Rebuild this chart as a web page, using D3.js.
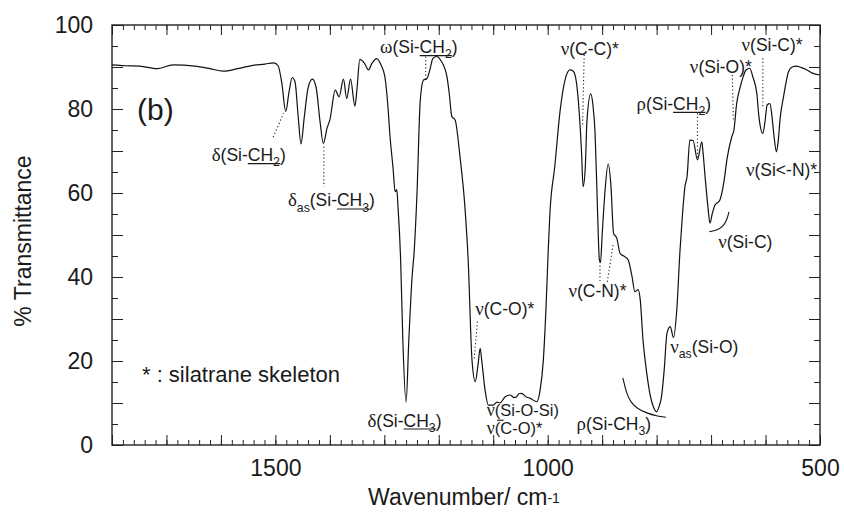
<!DOCTYPE html>
<html>
<head>
<meta charset="utf-8">
<script src="https://cdn.jsdelivr.net/npm/d3@7"></script>
<style>
  body { margin: 0; background: #fff; }
  svg text { font-family: "Liberation Sans", Arial, Helvetica, sans-serif; fill: #1a1a1a; }
</style>
</head>
<body>
<svg id="chart" width="844" height="518"></svg>
<script>
// Spectrum (cm-1, %T)
const wavenumber = [1800, 1776, 1749, 1717, 1688, 1648, 1620, 1596, 1569, 1541, 1519, 1503, 1495, 1488, 1481,
  1475, 1469, 1464, 1458, 1453, 1447, 1440, 1432, 1425, 1418, 1412, 1405, 1400, 1390, 1383,
  1375, 1369, 1362, 1354, 1350, 1345, 1337, 1329, 1323, 1314, 1306, 1299, 1293, 1290, 1284,
  1280, 1277, 1275, 1270, 1266, 1260, 1255, 1249, 1245, 1240, 1234, 1228, 1222, 1216, 1211,
  1204, 1196, 1185, 1181, 1176, 1170, 1161, 1152, 1146, 1139, 1133, 1128, 1124, 1121, 1115,
  1109, 1100, 1093, 1088, 1078, 1069, 1062, 1057, 1053, 1048, 1040, 1032, 1020, 1014, 1008,
  1003, 999, 996, 987, 977, 968, 959, 953, 947, 942, 938, 935, 931, 928, 921,
  917, 913, 909, 905, 903, 900, 895, 889, 884, 879, 873, 867, 858, 852, 845,
  840, 834, 830, 825, 818, 812, 806, 800, 796, 791, 786, 781, 775, 769, 763,
  757, 753, 748, 744, 739, 733, 725, 717, 715, 711, 706, 702, 698, 693, 684,
  676, 671, 662, 658, 653, 647, 641, 636, 629, 623, 616, 612, 605, 601, 597,
  592, 588, 584, 580, 577, 573, 567, 562, 558, 551, 543, 535, 524, 515, 500];
const transmittance = [90.5, 90.3, 90.2, 89.6, 90.5, 90.2, 89.6, 89.0, 89.6, 90.4, 90.7, 91.0, 90.3, 86, 79.4,
  84, 87.5, 86.5, 78, 71.7, 78, 85, 87.1, 85, 77, 71.8, 75.5, 77.4, 84.5, 82.9,
  87.1, 82.5, 87.1, 80.7, 85, 91.8, 91, 89.3, 90.8, 92, 90.5, 87.7, 80, 74.3, 66,
  60.3, 60.8, 57, 44, 25, 10.2, 25, 40, 46.4, 59.9, 82, 86.9, 87.2, 89.5, 92,
  92.5, 91.5, 87.7, 84, 78.2, 77.4, 68.6, 56.7, 44, 20.2, 15.1, 19, 23, 20, 13.1,
  9.5, 9.5, 10.2, 10.0, 11.5, 11.9, 11.3, 11.5, 12.2, 12.3, 11.5, 11.1, 10.3, 13, 20.2,
  33, 46.4, 55, 66.3, 79.8, 87, 89.3, 89, 86.1, 79, 70.2, 61.5, 66, 77, 83.6,
  81, 74.2, 58, 44, 43.5, 50, 60, 66.9, 62, 50.4, 49.2, 45.6, 44.8, 44, 40,
  36.5, 37, 34.5, 25, 17, 12, 9.1, 7.9, 9, 11.5, 18, 26.6, 28.2, 25.6, 32.1,
  46.4, 54, 61.5, 64, 72.6, 72.5, 67.9, 72.2, 70, 63.9, 57, 52.8, 55, 57.1, 58.3,
  63, 67.9, 73.4, 75, 81.3, 85, 87.7, 89.3, 89.7, 87.5, 83.7, 78, 74.2, 77, 81,
  81.3, 78, 73, 69.8, 72, 78, 82.9, 86.5, 88.8, 90, 90.2, 89.9, 89.3, 88.6, 88.1];

const xTickLabels = [1500, 1000, 500];
const yTickLabels = [0, 20, 40, 60, 80, 100];

// Band labels: anchor in data units, parts = [text, flags] (g greek, s subscript, u underline)
const bandLabels = [
  { wn: 1617, t: 67.6, parts: [['δ', 'g'], ['(Si-'], ['CH', 'u'], ['2', 'su'], [')']] },
  { wn: 1477, t: 56.8, parts: [['δ', 'g'], ['as', 's'], ['(Si-'], ['CH', 'u'], ['3', 'su'], [')']] },
  { wn: 1308, t: 93.3, parts: [['ω', 'g'], ['(Si-'], ['CH', 'u'], ['2', 'su'], [')']] },
  { wn: 976, t: 92.9, parts: [['ν', 'g'], ['(C-C)*']] },
  { wn: 1133, t: 31.0, parts: [['ν', 'g'], ['(C-O)*']] },
  { wn: 1331, t: 4.4, parts: [['δ', 'g'], ['(Si-'], ['CH', 'u'], ['3', 'su'], [')']] },
  { wn: 1112, t: 7.0, size: 16.5, parts: [['ν', 'g'], ['(Si-O-Si)']] },
  { wn: 1112, t: 2.6, size: 16.5, parts: [['ν', 'g'], ['(C-O)*']] },
  { wn: 947, t: 3.6, parts: [['ρ', 'g'], ['(Si-CH'], ['3', 's'], [')']] },
  { wn: 775, t: 21.9, parts: [['ν', 'g'], ['as', 's'], ['(Si-O)']] },
  { wn: 962, t: 35.2, parts: [['ν', 'g'], ['(C-N)*']] },
  { wn: 837, t: 79.8, parts: [['ρ', 'g'], ['(Si-'], ['CH', 'u'], ['2', 'su'], [')']] },
  { wn: 739, t: 88.6, parts: [['ν', 'g'], ['(Si-O)*']] },
  { wn: 644, t: 93.8, parts: [['ν', 'g'], ['(Si-C)*']] },
  { wn: 636, t: 64.0, parts: [['ν', 'g'], ['(Si<-N)*']] },
  { wn: 687, t: 46.9, parts: [['ν', 'g'], ['(Si-C)']] }
];

// Dotted leaders [wn1, t1, wn2, t2]
const leaders = [
  [1504, 73.3, 1485, 79.0],
  [1411, 71.0, 1411, 61.5],
  [1224, 92.5, 1224, 86.5],
  [933, 92.9, 936, 75.8],
  [1129, 29.4, 1135, 20.6],
  [904, 43.6, 904, 38.5],
  [880, 47.6, 891, 38.5],
  [725, 79.0, 725, 68.3],
  [661, 88.1, 659, 77.4],
  [605, 92.1, 605, 80.2]
];

// Bracket arcs
const arcRhoSiCH3 = [[862, 16], [856, 12.6], [848, 10.2], [835, 8.6], [818, 7.6], [800, 6.9], [783, 6.6]];
const arcNuSiC = [[667, 55.5], [671, 53.6], [678, 52.0], [690, 51.1], [703, 50.8]];
const dashSiOSi = [[1093, 5.9], [1081, 5.9]];

const margin = { left: 112, top: 25, right: 24, bottom: 73 };
const width = 844 - margin.left - margin.right;
const height = 518 - margin.top - margin.bottom;

const svg = d3.select('#chart');
const g = svg.append('g').attr('transform', `translate(${margin.left},${margin.top})`);

const x = d3.scaleLinear().domain([1800, 500]).range([0, width]);
const y = d3.scaleLinear().domain([0, 100]).range([height, 0]);

// Ticks (all pointing inward)
const xMinor = d3.range(500, 1801, 20);
const xMajor = d3.range(500, 1801, 100);
const yMinor = d3.range(0, 101, 5);
const yMid = d3.range(0, 101, 10);

function cleanAxis(sel) {
  sel.select('.domain').remove();
  sel.selectAll('.tick line').attr('stroke', '#222').attr('stroke-width', 1);
}

g.append('g').attr('transform', `translate(0,${height})`)
  .call(d3.axisBottom(x).tickValues(xMinor).tickSize(-5).tickFormat(''))
  .call(cleanAxis);
g.append('g').attr('transform', `translate(0,${height})`)
  .call(d3.axisBottom(x).tickValues(xMajor).tickSize(-10).tickPadding(15)
    .tickFormat(d => xTickLabels.includes(d) ? d : ''))
  .call(cleanAxis)
  .selectAll('text').style('font-size', '23px').attr('fill', '#1a1a1a');
g.append('g')
  .call(d3.axisTop(x).tickValues(xMinor).tickSize(-5).tickFormat(''))
  .call(cleanAxis);
g.append('g')
  .call(d3.axisTop(x).tickValues(xMajor).tickSize(-10).tickFormat(''))
  .call(cleanAxis);

g.append('g')
  .call(d3.axisLeft(y).tickValues(yMinor).tickSize(-6).tickFormat(''))
  .call(cleanAxis);
g.append('g')
  .call(d3.axisLeft(y).tickValues(yMid).tickSize(-11).tickPadding(19)
    .tickFormat(d => yTickLabels.includes(d) ? d : ''))
  .call(cleanAxis)
  .selectAll('text').style('font-size', '23px').attr('fill', '#1a1a1a');
g.append('g').attr('transform', `translate(${width},0)`)
  .call(d3.axisRight(y).tickValues(yMinor).tickSize(-6).tickFormat(''))
  .call(cleanAxis);
g.append('g').attr('transform', `translate(${width},0)`)
  .call(d3.axisRight(y).tickValues(yMid).tickSize(-11).tickFormat(''))
  .call(cleanAxis);

// Frame
g.append('rect')
  .attr('width', width).attr('height', height)
  .attr('fill', 'none').attr('stroke', '#222').attr('stroke-width', 1.4);

// Spectrum
const spectrum = wavenumber.map((w, i) => [w, transmittance[i]]);
const line = d3.line().x(d => x(d[0])).y(d => y(d[1])).curve(d3.curveMonotoneX);
g.append('path').datum(spectrum)
  .attr('d', line)
  .attr('fill', 'none').attr('stroke', '#111').attr('stroke-width', 1.2);

// Leaders and arcs
const ann = g.append('g');
ann.selectAll('line.leader').data(leaders).enter().append('line')
  .attr('class', 'leader')
  .attr('x1', d => x(d[0])).attr('y1', d => y(d[1]))
  .attr('x2', d => x(d[2])).attr('y2', d => y(d[3]))
  .attr('stroke', '#222').attr('stroke-width', 1.1).attr('stroke-dasharray', '1.2,2.4');

const arcLine = d3.line().x(d => x(d[0])).y(d => y(d[1])).curve(d3.curveBasis);
[arcRhoSiCH3, arcNuSiC, dashSiOSi].forEach(a => {
  ann.append('path').datum(a).attr('d', arcLine)
    .attr('fill', 'none').attr('stroke', '#111').attr('stroke-width', 1.1);
});

// Band labels
function addLabel(d) {
  const size = d.size || 17.5;
  const t = ann.append('text').attr('x', x(d.wn)).attr('y', y(d.t)).style('font-size', size + 'px');
  let cur = 0;
  const under = [];
  d.parts.forEach(([s, f = '']) => {
    const off = f.includes('s') ? size * 0.3 : 0;
    const sp = t.append('tspan').text(s).attr('dy', off - cur);
    cur = off;
    if (f.includes('s')) sp.style('font-size', (size * 0.7) + 'px');
    if (f.includes('g')) sp.style('font-family', '"Liberation Serif", "Times New Roman", serif').style('font-size', (size * 1.08) + 'px');
    if (f.includes('u')) under.push(sp.node());
  });
  if (under.length) {
    const b0 = under[0].getBBox();
    const b1 = under[under.length - 1].getBBox();
    ann.append('line')
      .attr('x1', b0.x).attr('x2', b1.x + b1.width)
      .attr('y1', y(d.t) + 2.5).attr('y2', y(d.t) + 2.5)
      .attr('stroke', '#1a1a1a').attr('stroke-width', 1.1);
  }
}
bandLabels.forEach(addLabel);

// Panel letter and footnote
ann.append('text').attr('x', x(1754)).attr('y', y(77.4))
  .style('font-size', '30px').text('(b)');
ann.append('text').attr('x', x(1745)).attr('y', y(15.1))
  .style('font-size', '22px').text('* : silatrane skeleton');

// Axis titles
svg.append('text')
  .attr('transform', `translate(31,${margin.top + height / 2 + 6}) rotate(-90)`)
  .attr('text-anchor', 'middle')
  .style('font-size', '23px')
  .text('% Transmittance');

const xt = svg.append('text')
  .attr('x', margin.left + width / 2 - 2).attr('y', 505)
  .attr('text-anchor', 'middle')
  .style('font-size', '23px');
xt.append('tspan').text('Wavenumber/ cm');
xt.append('tspan').text('-1').style('font-size', '14px').attr('dy', -2);
</script>
</body>
</html>
